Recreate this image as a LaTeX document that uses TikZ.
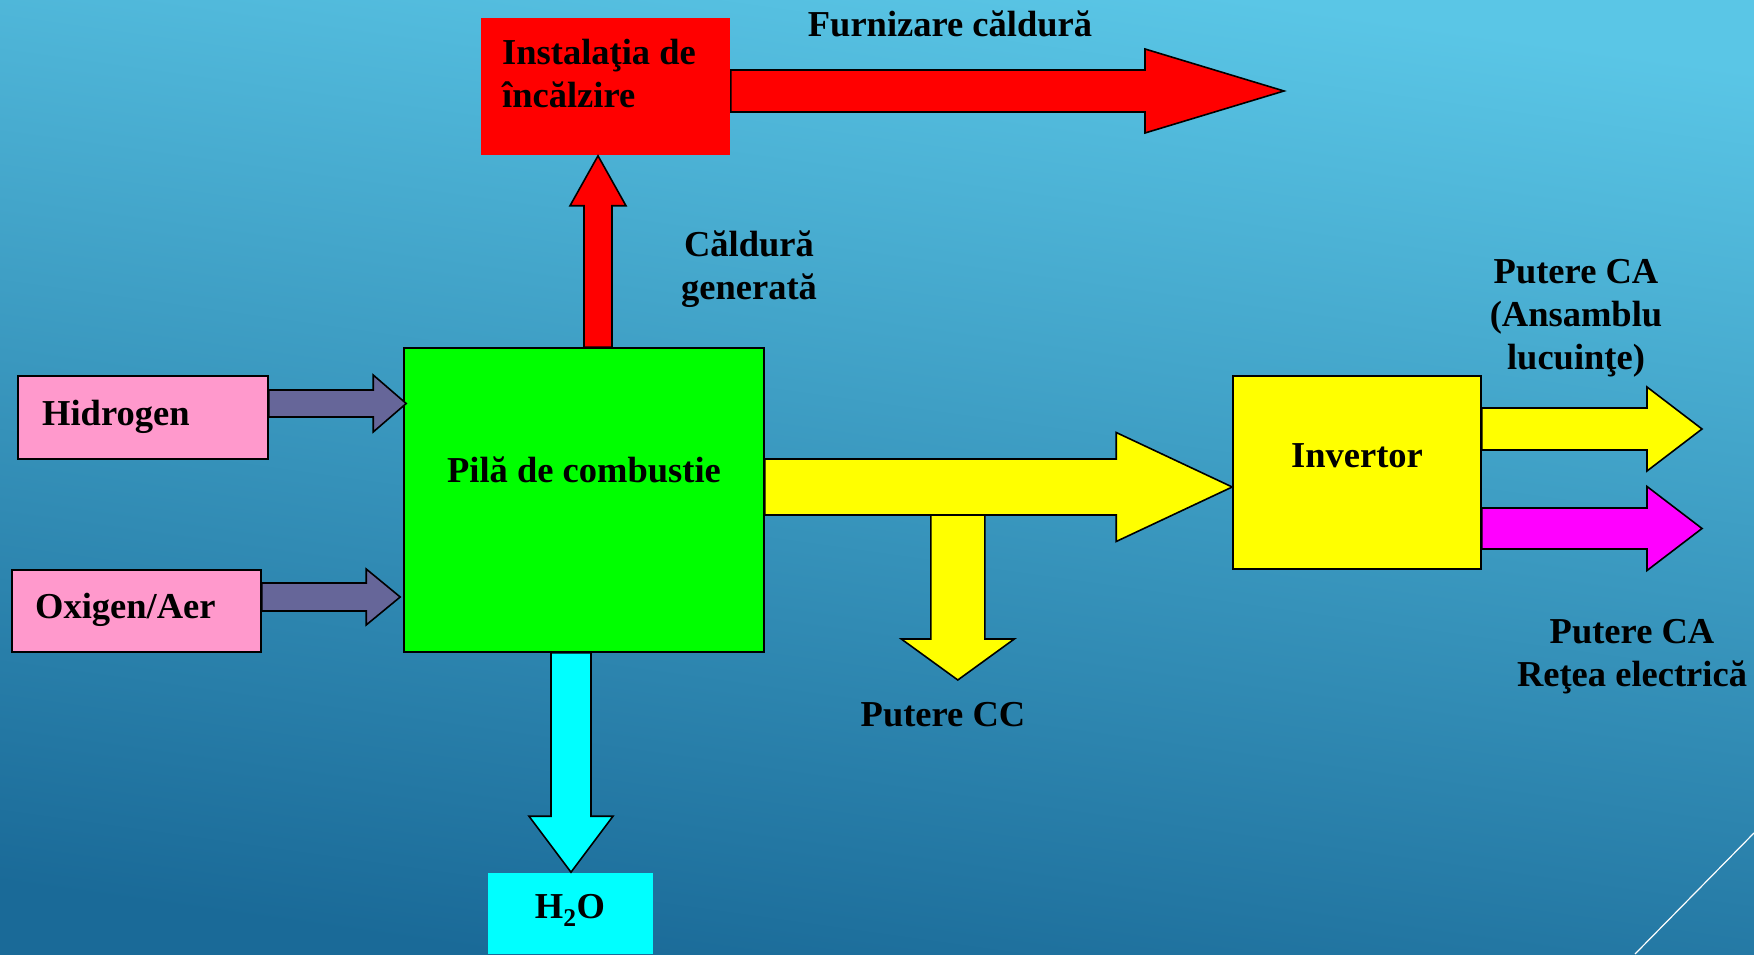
\documentclass[tikz,border=0pt]{standalone}
\usepackage{fontspec}
\setmainfont{Liberation Serif}
\usetikzlibrary{positioning, calc}
\definecolor{bgtop}{RGB}{90,198,230}
\definecolor{bgbot}{RGB}{26,106,152}
\definecolor{boxpink}{RGB}{255,153,204}
\definecolor{inpurple}{RGB}{102,102,153}
\definecolor{heatred}{RGB}{255,0,0}
\definecolor{cellgreen}{RGB}{0,255,0}
\definecolor{dcyellow}{RGB}{255,255,0}
\definecolor{watercyan}{RGB}{0,255,255}
\definecolor{gridmagenta}{RGB}{255,0,255}

\tikzset{
  block/.style={draw=black, line width=1.6pt, inner sep=0pt},
  lbl/.style={font=\fontsize{36.5}{43}\selectfont\bfseries, align=center, inner sep=0pt},
  flow/.style={draw=black, line width=1.6pt, line join=miter},
}

% fat arrow to the right: style, tail, tip, shaft half, head half, head length
\newcommand{\flowh}[6]{%
  \draw[flow, #1] let \p1=(#2), \p2=(#3) in
    (\x1,{\y1+#4pt}) -- ({\x2-#6pt},{\y1+#4pt}) -- ({\x2-#6pt},{\y1+#5pt})
    -- (\x2,\y1) -- ({\x2-#6pt},{\y1-#5pt}) -- ({\x2-#6pt},{\y1-#4pt})
    -- (\x1,{\y1-#4pt}) -- cycle;}
% fat arrow up or down
\newcommand{\flowv}[6]{%
  \draw[flow, #1] let \p1=(#2), \p2=(#3), \n1={sign(\y2-\y1)} in
    ({\x1-#4pt},\y1) -- ({\x1-#4pt},{\y2-(\n1)*#6pt}) -- ({\x1-#5pt},{\y2-(\n1)*#6pt})
    -- (\x1,\y2) -- ({\x1+#5pt},{\y2-(\n1)*#6pt}) -- ({\x1+#4pt},{\y2-(\n1)*#6pt})
    -- ({\x1+#4pt},\y1) -- cycle;}

\begin{document}
\begin{tikzpicture}[x=1pt, y=1pt]
  % Background
  \shade[top color=bgtop, bottom color=bgbot, shading angle=-8] (0,0) rectangle (1754,954);
  \useasboundingbox (0,0) rectangle (1754,954);
  \draw[white, line width=1.2pt] (1754,121) -- (1635,0);

  % Blocks
  \node[block, draw=none, fill=heatred, minimum width=249pt, minimum height=137pt] (heat) at (605.5,867.5) {};
  \node[block, fill=cellgreen, minimum width=360pt, minimum height=304pt] (fc) at (584,454) {};
  \node[block, fill=boxpink, minimum width=250pt, minimum height=83pt] (hyd) at (143,536.5) {};
  \node[block, fill=boxpink, minimum width=249pt, minimum height=82pt] (oxy) at (136.5,343) {};
  \node[block, draw=none, fill=watercyan, minimum width=165pt, minimum height=81pt] (water) at (570.5,40.5) {};
  \node[block, fill=dcyellow, minimum width=248pt, minimum height=193pt] (inv) at (1357,481.5) {};

  % Free ends
  \coordinate (feedend) at (1284,863);
  \coordinate (dcend) at (957,274);
  \coordinate (loadend) at (1702,525);
  \coordinate (gridend) at (1702,425.5);

  % Inputs
  \flowh{fill=inpurple}{$(hyd.east)+(0,14)$}{$(fc.west)+(3,0)$}{13.5}{28.5}{33}
  \flowh{fill=inpurple}{$(oxy.east)+(0,14)$}{$(fc.west)+(-3,0)$}{14}{28}{34}

  % Heat
  \flowv{fill=heatred}{$(fc.north)+(14,0)$}{heat.south}{14}{28}{50}
  \flowh{fill=heatred}{$(heat.east)+(0,-4.5)$}{feedend}{21}{42}{139}

  % Water
  \flowv{fill=watercyan}{$(fc.south)+(-13,0)$}{water.north}{20}{42}{56}

  % DC power
  \flowv{fill=dcyellow}{$(fc.east)+(193,-14)$}{dcend}{27}{56.5}{41}
  \flowh{fill=dcyellow}{$(fc.east)+(0,13)$}{inv.west}{28}{54.5}{116}

  % AC power
  \flowh{fill=dcyellow}{$(inv.east)+(0,43.5)$}{loadend}{21}{42}{55}
  \flowh{fill=gridmagenta}{$(inv.east)+(0,-56)$}{gridend}{20.5}{42}{55}

  % Labels (base = last line)
  \node[lbl, align=left, anchor=base west] (heattxt) at (502,846) {Instalaţia de\\încălzire};
  \node[lbl, anchor=base] (feedtxt) at (950,917) {Furnizare căldură};
  \node[lbl, anchor=base] (gentxt) at (749,654) {Căldură\\generată};
  \node[lbl, anchor=base west] (hydtxt) at (42,528) {Hidrogen};
  \node[lbl, anchor=base west] (oxytxt) at (35,335) {Oxigen/Aer};
  \node[lbl, anchor=base] (fctxt) at (584,471) {Pilă de combustie};
  \node[lbl, anchor=base] (invtxt) at (1357,486) {Invertor};
  \node[lbl, anchor=base] (loadtxt) at (1576,584) {Putere CA\\(Ansamblu\\lucuinţe)};
  \node[lbl, anchor=base] (gridtxt) at (1632,267) {Putere CA\\Reţea electrică};
  \node[lbl, anchor=base] (dctxt) at (943,227) {Putere CC};
  \node[lbl, anchor=base] (watertxt) at (570,36) {H\textsubscript{2}O};
\end{tikzpicture}
\end{document}
